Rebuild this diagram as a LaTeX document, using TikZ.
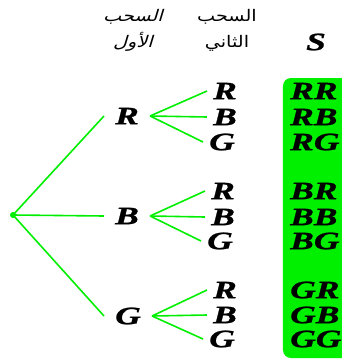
\documentclass[tikz,border=0pt]{standalone}
\usepackage{fontspec}
\setmainfont{Liberation Serif}
\newfontfamily\lblfont[FakeStretch=1.42,FakeBold=1]{Liberation Serif}
\newfontfamily\arabicslant[Script=Arabic,FakeStretch=1.2,FakeSlant=0.3]{DejaVu Sans}
\newfontfamily\arabicfont[Script=Arabic,FakeStretch=1.2]{DejaVu Sans}
\TeXXeTstate=1
\usepackage{tikz}

\begin{document}
\begin{tikzpicture}[
    x=1pt, y=-1pt,
    lbl/.style={font=\lblfont\bfseries\itshape\fontsize{25}{25}\selectfont,
                inner sep=0pt},
    first/.style={lbl, anchor=west, inner xsep=11pt},
    second/.style={lbl, anchor=west, inner xsep=6pt},
    pair/.style={lbl, anchor=west},
    head/.style={align=center, inner sep=0pt},
    branch/.style={draw=tgreen, line width=1.6pt},
    dot/.style={circle, fill=tgreen, minimum size=6pt, inner sep=0pt},
]
\definecolor{tgreen}{HTML}{00EE00}  % branches
\definecolor{sgreen}{HTML}{00F000}  % sample space
\useasboundingbox (0,0) rectangle (342,360);

% ---- headers ----
\node[head, font=\arabicslant\fontsize{16}{26}\selectfont] (draw1) at (133,30)
    {\beginR السحب\endR\\\beginR الأول\endR};
\node[head, font=\arabicfont\fontsize{16}{26}\selectfont] (draw2) at (227,30)
    {\beginR السحب\endR\\\beginR الثاني\endR};
\node[lbl] (S) at (316,42) {S};

% ---- sample space ----
\fill[sgreen, rounded corners=8pt] (283,78) rectangle (372,358);
\node[pair] (sRR) at (290,91)  {RR};
\node[pair] (sRB) at (290,117) {RB};
\node[pair] (sRG) at (290,142) {RG};
\node[pair] (sBR) at (290,191) {BR};
\node[pair] (sBB) at (290,217) {BB};
\node[pair] (sBG) at (290,241) {BG};
\node[pair] (sGR) at (290,290) {GR};
\node[pair] (sGB) at (290,315) {GB};
\node[pair] (sGG) at (290,339) {GG};

% ---- tree ----
\node[dot] (root) at (13,215) {};
\node[first] (R1) at (104,116) {R};
\node[first] (B1) at (104,216) {B};
\node[first] (G1) at (104,316) {G};

\node[second] (R1R) at (207,91)  {R};
\node[second] (R1B) at (207,117) {B};
\node[second] (R1G) at (203,142) {G};
\node[second] (B1R) at (205,191) {R};
\node[second] (B1B) at (205,217) {B};
\node[second] (B1G) at (201,241) {G};
\node[second] (G1R) at (207,290) {R};
\node[second] (G1B) at (207,315) {B};
\node[second] (G1G) at (203,339) {G};

\draw[branch] (root.center) -- (R1.west);
\draw[branch] (root.center) -- (B1.west);
\draw[branch] (root.center) -- (G1.west);

\draw[branch] (R1.east) -- (R1R.west);
\draw[branch] (R1.east) -- (R1B.west);
\draw[branch] (R1.east) -- (R1G.west);
\draw[branch] (B1.east) -- (B1R.west);
\draw[branch] (B1.east) -- (B1B.west);
\draw[branch] (B1.east) -- (B1G.west);
\draw[branch] (G1.east) -- (G1R.west);
\draw[branch] (G1.east) -- (G1B.west);
\draw[branch] (G1.east) -- (G1G.west);
\end{tikzpicture}
\end{document}
